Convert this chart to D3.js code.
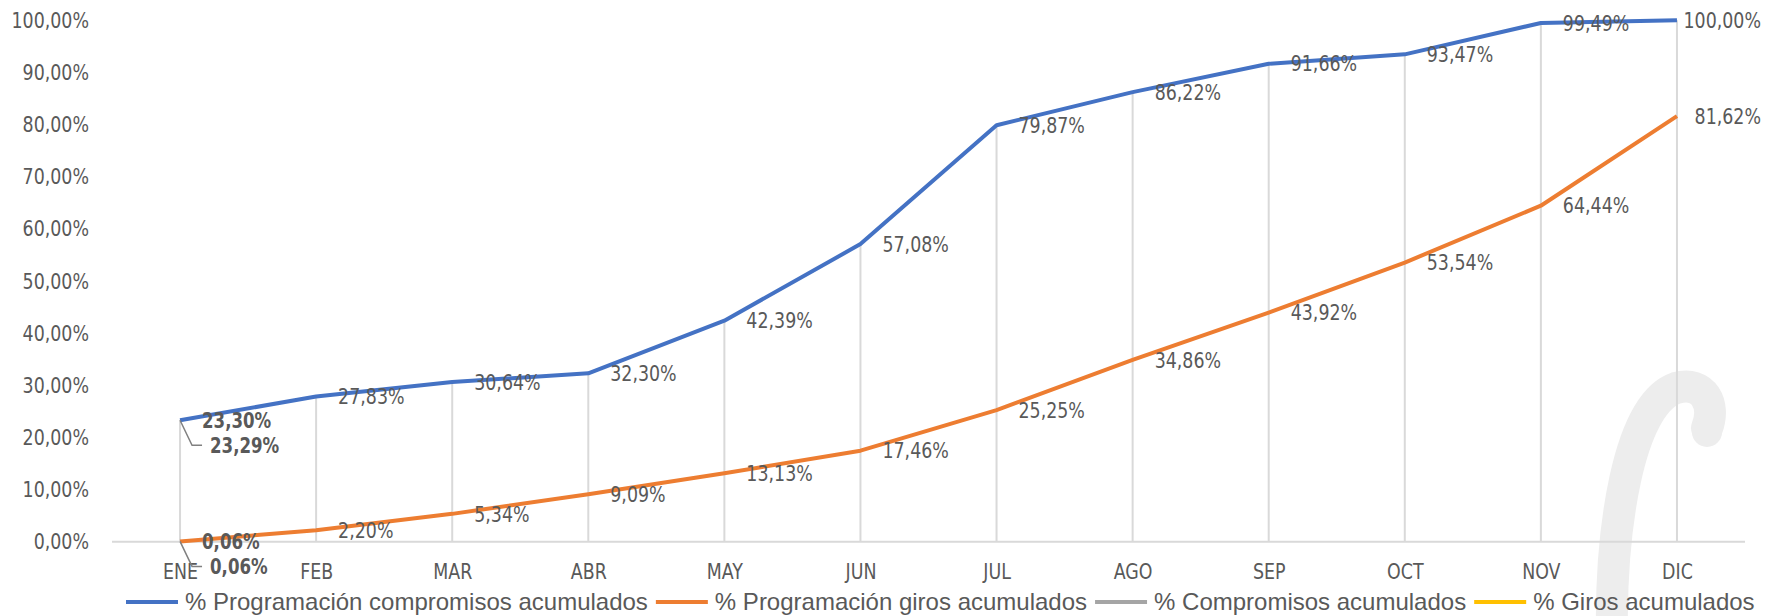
<script src="https://d3js.org/d3.v7.min.js"></script>
<style>
  body{ margin:0; background:#fff; }
  svg{ display:block; background:#fff; }
  .num{ font-family:"Liberation Sans Narrow","DejaVu Sans Condensed",sans-serif; font-size:22px; fill:#595959; }
  .leg{ font-family:"Liberation Sans",Arial,sans-serif; font-size:24px; fill:#595959; }
</style>
<body>
<script>
    var width = 1765;
    var height = 616;

    // data
    var months = ["ENE","FEB","MAR","ABR","MAY","JUN","JUL","AGO","SEP","OCT","NOV","DIC"];
    var progCompromisos = [23.30, 27.83, 30.64, 32.30, 42.39, 57.08, 79.87, 86.22, 91.66, 93.47, 99.49, 100.00];
    var progGiros = [0.06, 2.20, 5.34, 9.09, 13.13, 17.46, 25.25, 34.86, 43.92, 53.54, 64.44, 81.62];
    var compromisos = [23.29];
    var giros = [0.06];
    var yTicks = [0,10,20,30,40,50,60,70,80,90,100];

    var series = [
        {name:"% Programación compromisos acumulados", values:progCompromisos, color:"#4472C4"},
        {name:"% Programación giros acumulados", values:progGiros, color:"#ED7D31"},
        {name:"% Compromisos acumulados", values:compromisos, color:"#A5A5A5"},
        {name:"% Giros acumulados", values:giros, color:"#FFC000"}
    ];

    var fmt = function(v){ return v.toFixed(2).replace(".", ",") + "%"; };

    // the original uses a narrower face than DejaVu Condensed, so squeeze it
    var sx = 0.88;

    var svg = d3.select("body").append("svg")
        .attr("width", width)
        .attr("height", height);

    var x = d3.scalePoint().domain(months).range([112, 1745]).padding(0.5);
    var y = d3.scaleLinear().domain([0, 100]).range([541.7, 20.3]);

    // watermark in the corner
    svg.append("path")
        .attr("d", "M1612,640 C1610,530 1628,405 1676,388 C1704,380 1716,405 1707,428")
        .attr("fill", "none")
        .attr("stroke", "#ededed")
        .attr("stroke-width", 32)
        .attr("stroke-linecap", "round");
    svg.append("circle")
        .attr("cx", 1707).attr("cy", 432).attr("r", 15)
        .attr("fill", "#ededed");

    // drop lines from highest series to axis
    svg.selectAll(".drop")
        .data(months)
        .enter().append("line")
        .attr("x1", function(d){ return x(d); })
        .attr("x2", function(d){ return x(d); })
        .attr("y1", y(0))
        .attr("y2", function(d, i){ return y(progCompromisos[i]); })
        .attr("stroke", "#d9d9d9")
        .attr("stroke-width", 2);

    // x axis
    var xAxis = svg.append("g")
        .attr("transform", "translate(0," + y(0) + ")")
        .call(d3.axisBottom(x).tickSize(0).tickPadding(20));
    xAxis.select(".domain").attr("stroke", "#d9d9d9").attr("stroke-width", 2)
        .attr("d", "M112,0H1745");
    xAxis.selectAll("text").attr("class", "num").attr("font-family", null).attr("font-size", null)
        .attr("fill", null).attr("dy", "0.35em").attr("y", 30)
        .attr("transform", "scale(" + sx + ",1)");

    // y axis (labels only)
    var yAxis = svg.append("g")
        .attr("transform", "translate(89,0)")
        .call(d3.axisLeft(y).tickValues(yTicks).tickSize(0).tickPadding(0).tickFormat(fmt));
    yAxis.select(".domain").remove();
    yAxis.selectAll("text").attr("class", "num").attr("font-family", null).attr("font-size", null)
        .attr("fill", null)
        .attr("transform", "scale(" + sx + ",1)");

    // lines
    var line = d3.line()
        .x(function(d, i){ return x(months[i]); })
        .y(function(d){ return y(d); });

    svg.selectAll(".series")
        .data(series.filter(function(s){ return s.values.length > 1; }))
        .enter().append("path")
        .attr("d", function(s){ return line(s.values); })
        .attr("fill", "none")
        .attr("stroke", function(s){ return s.color; })
        .attr("stroke-width", 4)
        .attr("stroke-linejoin", "round");

    // data labels
    var labels = [];
    series.forEach(function(s, si){
        s.values.forEach(function(v, i){
            var lx = x(months[i]) + 22;
            var ly = y(v);
            var lead = false;
            if (si >= 2) { lx += 8; ly += 25; lead = true; }
            labels.push({v:v, px:x(months[i]), py:y(v), lx:lx, ly:ly, bold:i === 0, lead:lead});
        });
    });

    svg.selectAll(".leader")
        .data(labels.filter(function(d){ return d.lead; }))
        .enter().append("path")
        .attr("d", function(d){ return "M" + d.px + "," + d.py + "L" + (d.px + 12) + "," + d.ly + "H" + (d.lx - 8); })
        .attr("fill", "none")
        .attr("stroke", "#808080")
        .attr("stroke-width", 1.5);

    svg.selectAll(".dlabel")
        .data(labels)
        .enter().append("text")
        .attr("class", "num")
        .attr("transform", "scale(" + sx + ",1)")
        .attr("x", function(d){ return d.lx / sx; })
        .attr("y", function(d){ return d.ly; })
        .attr("dy", "0.35em")
        .attr("font-weight", function(d){ return d.bold ? "bold" : null; })
        .style("font-size", function(d){ return d.bold ? "21px" : null; })
        .text(function(d){ return fmt(d.v); })
        .each(function(d){
            var w = this.getComputedTextLength() * sx;
            if (d.lx + w > width - 4) d3.select(this).attr("x", (width - 4 - w) / sx);
        });

    // legend
    var lx = 126;
    series.forEach(function(s){
        svg.append("line")
            .attr("x1", lx).attr("x2", lx + 52)
            .attr("y1", 602).attr("y2", 602)
            .attr("stroke", s.color).attr("stroke-width", 4);
        var t = svg.append("text")
            .attr("class", "leg")
            .attr("x", lx + 59).attr("y", 602).attr("dy", "0.35em")
            .text(s.name);
        lx += 59 + t.node().getComputedTextLength() + 8;
    });
</script>
</body>
